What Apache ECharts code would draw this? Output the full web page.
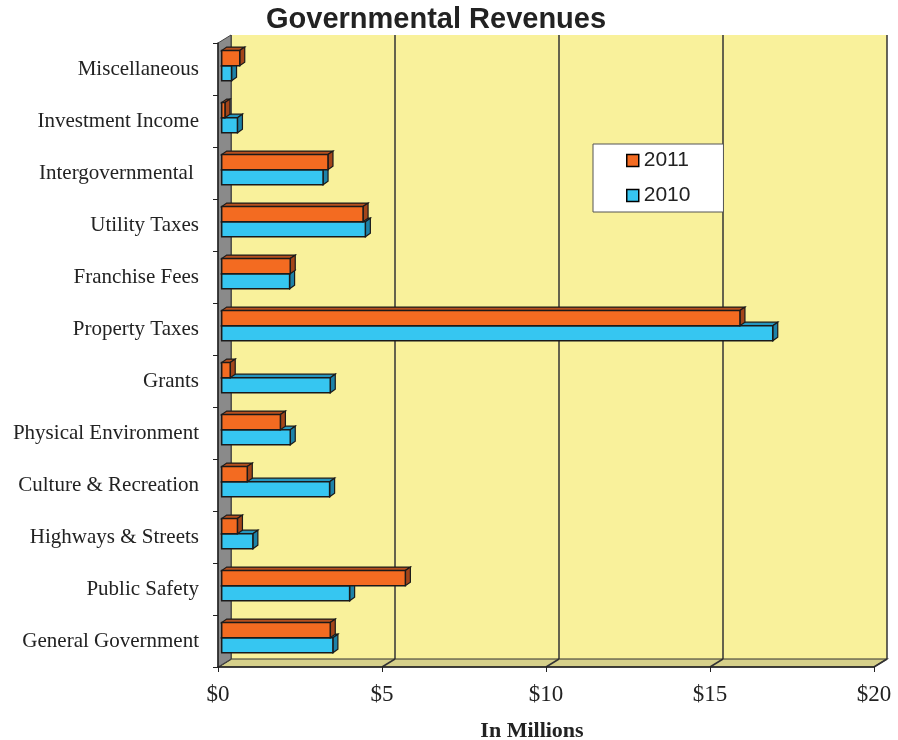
<!DOCTYPE html>
<html><head><meta charset="utf-8">
<script src="https://cdn.jsdelivr.net/npm/echarts@6/dist/echarts.min.js"></script>
<style>html,body{margin:0;padding:0;background:#fff}#c{width:898px;height:740px}</style>
</head><body><div id="c"></div>
<script>
// ---- data ----
const categories = ['General Government','Public Safety','Highways & Streets','Culture & Recreation','Physical Environment','Grants','Property Taxes','Franchise Fees','Utility Taxes','Intergovernmental ','Investment Income','Miscellaneous'];
const values2011 = [3.31, 5.6, 0.48, 0.78, 1.79, 0.26, 15.8, 2.09, 4.31, 3.24, 0.1, 0.55];
const values2010 = [3.39, 3.9, 0.95, 3.29, 2.09, 3.31, 16.8, 2.07, 4.38, 3.09, 0.48, 0.3];
const xTicks = [0, 5, 10, 15, 20];
const seriesNames = ['2011', '2010'];

// ---- layout ----
const FL = 218, FT = 43, W = 656, H = 624;   // front plane
const DX = 13, DY = 8;                        // wall depth
const BDX = 3.7, BDY = 2.3;                   // bar plane offset
const C2011 = {front:'#F36B21', top:'#B8501E', side:'#A3451A'};
const C2010 = {front:'#36C6F1', top:'#2596BF', side:'#1D82A8'};

function makeRender(col, upper) {
  return function (params, api) {
    const i = api.value(1), v = api.value(0);
    const p0 = api.coord([0, i]), p1 = api.coord([v, i]);
    const band = api.size([0, 1])[1];
    const t = band * 0.29;
    const c = p0[1] - band * 0.02;
    const y0 = upper ? c - t : c;
    const y1 = y0 + t;
    const x0 = p0[0], x1 = p1[0];
    const dx = 5, dy = 3.5, s = '#1a1a1a';
    return {type:'group', children:[
      {type:'polygon', shape:{points:[[x0,y0],[x1,y0],[x1+dx,y0-dy],[x0+dx,y0-dy]]}, style:{fill:col.top, stroke:s, lineWidth:1.2}},
      {type:'polygon', shape:{points:[[x1,y0],[x1+dx,y0-dy],[x1+dx,y1-dy],[x1,y1]]}, style:{fill:col.side, stroke:s, lineWidth:1.2}},
      {type:'rect', shape:{x:x0, y:y0, width:x1-x0, height:t}, style:{fill:col.front, stroke:s, lineWidth:1.5}}
    ]};
  };
}

const chart = echarts.init(document.getElementById('c'), null, {renderer:'canvas'});
const serif = 'Liberation Serif';
chart.setOption({
  animation: false,
  backgroundColor: '#fff',
  title: {text:'Governmental Revenues', left: 261, top: 0,
    textStyle:{fontFamily:'Liberation Sans', fontWeight:'bold', fontSize:29, color:'#222'}},
  legend: {
    orient:'vertical', left:593, top:144,
    data: [
      {name:'2011', itemStyle:{color:C2011.front, borderColor:'#000', borderWidth:1.5}},
      {name:'2010', itemStyle:{color:C2010.front, borderColor:'#000', borderWidth:1.5}}
    ],
    icon:'rect', itemWidth:12, itemHeight:12, itemGap:14,
    padding:[6,33,6,33], backgroundColor:'#fff', borderColor:'#555', borderWidth:1,
    textStyle:{fontFamily:'Liberation Sans', fontSize:21, color:'#222'},
    selectedMode:false, z:20
  },
  grid: [
    {left:FL, top:FT, width:W, height:H, outerBoundsMode:'none', containLabel:false},
    {left:FL+DX, top:FT-DY, width:W, height:H, show:true, backgroundColor:'#F9F19B', borderWidth:0, outerBoundsMode:'none', containLabel:false},
    {left:FL+BDX, top:FT-BDY, width:W, height:H, outerBoundsMode:'none', containLabel:false}
  ],
  xAxis: [
    {gridIndex:0, type:'value', min:0, max:20, interval:5, z:10,
      axisLine:{show:true, lineStyle:{color:'#222', width:1.5}},
      axisTick:{show:true, length:5, lineStyle:{color:'#222'}},
      axisLabel:{formatter:v=>'$'+v, fontFamily:serif, fontSize:23, color:'#222', margin:16},
      splitLine:{show:false},
      name:'In Millions', nameLocation:'middle', nameGap:53,
      nameTextStyle:{fontFamily:serif, fontWeight:'bold', fontSize:22, color:'#222', padding:[0,28,0,0]}},
    {gridIndex:1, type:'value', min:0, max:20, interval:5,
      axisLine:{show:false}, axisTick:{show:false}, axisLabel:{show:false},
      splitLine:{show:true, lineStyle:{color:'#333', width:1.5}}},
    {gridIndex:2, type:'value', min:0, max:20, show:false}
  ],
  yAxis: [
    {gridIndex:0, type:'category', data:categories, z:10,
      axisLine:{show:true, lineStyle:{color:'#222', width:1.5}},
      axisTick:{show:true, length:5, lineStyle:{color:'#222'}},
      axisLabel:{fontFamily:serif, fontSize:21, color:'#222', margin:19, padding:[4,0,0,0]}},
    {gridIndex:1, type:'category', data:categories, show:false},
    {gridIndex:2, type:'category', data:categories, show:false}
  ],
  series: [
    {name:'2010', type:'custom', xAxisIndex:2, yAxisIndex:2, z:5,
      itemStyle:{color:C2010.front},
      data: values2010.map((v,i)=>[v,i]), encode:{x:0, y:1},
      renderItem: makeRender(C2010, false)},
    {name:'2011', type:'custom', xAxisIndex:2, yAxisIndex:2, z:5,
      itemStyle:{color:C2011.front},
      data: values2011.map((v,i)=>[v,i]), encode:{x:0, y:1},
      renderItem: makeRender(C2011, true)}
  ]
});

// walls / floor built from the axis scales
const fx = v => chart.convertToPixel({xAxisIndex:0}, v);
const bx = v => chart.convertToPixel({xAxisIndex:1}, v);
const yB = FT + H, yBB = FT - DY + H;
const g = [
  {type:'polygon', z:2, shape:{points:[[fx(0),yB],[fx(20),yB],[bx(20),yBB],[bx(0),yBB]]},
    style:{fill:'#D6D08A', stroke:'#333', lineWidth:1.2}},
  {type:'polygon', z:3, shape:{points:[[FL,yB],[FL,FT],[FL+DX,FT-DY],[FL+DX,yBB]]},
    style:{fill:'#8A8A8A', stroke:'#444', lineWidth:1}}
];
xTicks.forEach(v => g.push({type:'line', z:2, shape:{x1:fx(v), y1:yB, x2:bx(v), y2:yBB},
  style:{stroke:'#333', lineWidth:1.5}}));
chart.setOption({graphic: g});
</script>
</body></html>
